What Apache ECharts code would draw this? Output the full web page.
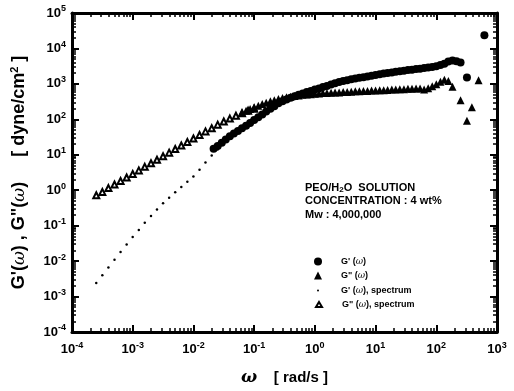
<!DOCTYPE html>
<html><head><meta charset="utf-8">
<script src="https://cdn.jsdelivr.net/npm/echarts@6/dist/echarts.min.js"></script>
<style>html,body{margin:0;padding:0;background:#fff}#c{width:514px;height:391px}</style>
</head><body><div id="c"></div>
<script>
// ---- data ----
const measOmegaGp = [0.0215,0.0251,0.0293,0.0341,0.0398,0.0464,0.0541,0.0631,0.0736,0.0858,
  0.1,0.117,0.136,0.158,0.185,0.215,0.251,0.293,0.341,0.398,0.464,0.541,0.631,0.736,0.858,
  1.0,1.17,1.36,1.58,1.85,2.15,2.51,2.93,3.41,3.98,4.64,5.41,6.31,7.36,8.58,
  10,11.7,13.6,15.8,18.5,21.5,25.1,29.3,34.1,39.8,46.4,54.1,63.1,73.6,85.8,
  100,117,136,158,185,215,251,320,620];
const measGp = [14.8,17.8,21.9,26.9,33.1,39.8,46.8,56.2,66.1,79.4,
  95.5,115,138,166,200,234,282,324,363,407,447,490,537,589,631,
  692,741,813,871,955,1047,1122,1202,1259,1349,1413,1479,1549,1622,1698,
  1778,1862,1950,2042,2089,2188,2291,2344,2455,2512,2630,2692,2818,2884,3020,
  3162,3388,3715,4266,4571,4365,3981,1514,23440];

const measOmegaGpp = [0.0631,0.0736,0.0858,
  0.1,0.117,0.136,0.158,0.185,0.215,0.251,0.293,0.341,0.398,0.464,0.541,0.631,0.736,0.858,
  1.0,1.17,1.36,1.58,1.85,2.15,2.51,2.93,3.41,3.98,4.64,5.41,6.31,7.36,8.58,
  10,11.7,13.6,15.8,18.5,21.5,25.1,29.3,34.1,39.8,46.4,54.1,63.1,73.6,85.8,
  100,117,136,158,185,251,320,386,497];
const measGpp = [155,174,195,
  219,240,269,295,324,347,372,398,417,437,457,468,490,501,513,
  525,537,550,550,562,575,575,589,589,603,617,617,631,631,646,
  646,661,661,676,692,692,708,708,724,724,741,741,692,759,851,
  977,1148,1318,1202,832,347,91,219,1259];

const specOmegaGpp = [2.51e-4,3.16e-4,3.98e-4,5.01e-4,6.31e-4,7.94e-4,1.0e-3,1.26e-3,1.58e-3,2.0e-3,
  2.51e-3,3.16e-3,3.98e-3,5.01e-3,6.31e-3,7.94e-3,0.01,0.0126,0.0158,0.02,
  0.0251,0.0316,0.0398,0.0501,0.0631,0.0794,0.1];
const specGpp = [0.724,0.891,1.148,1.445,1.82,2.29,2.88,3.63,4.57,5.75,
  7.24,9.12,11.5,14.5,18.2,22.9,28.8,36.3,45.7,56.2,
  70.8,87.1,105,126,148,174,200];

const specOmegaGp = [2.51e-4,3.16e-4,3.98e-4,5.01e-4,6.31e-4,7.94e-4,1.0e-3,1.26e-3,1.58e-3,2.0e-3,
  2.51e-3,3.16e-3,3.98e-3,5.01e-3,6.31e-3,7.94e-3,0.01,0.0126,0.0158,0.02,0.0251];
const specGp = [2.40e-3,3.98e-3,6.61e-3,0.0110,0.0182,0.0295,0.0479,0.0759,0.120,0.186,
  0.288,0.427,0.617,0.871,1.23,1.74,2.45,3.80,6.03,9.55,14.1];

const xTickExps = ['-4','-3','-2','-1','0','1','2','3'];
const yTickExps = ['-4','-3','-2','-1','0','1','2','3','4','5'];
const seriesNames = ["G'(ω)", 'G"(ω)', "G'(ω), spectrum", 'G"(ω), spectrum'];
const noteLines = ['PEO/H', '2', 'O  SOLUTION', 'CONCENTRATION : 4 wt%', 'Mw : 4,000,000'];

// ---- chart ----
const FONT = '"Liberation Sans", Arial, sans-serif';
function pairs(xs, ys) { return xs.map((x, i) => [x, ys[i]]); }
function expLabel(exps) {
  return function (v) {
    const e = String(Math.round(Math.log10(v)));
    return exps.indexOf(e) >= 0 ? '{b|10}{s|' + e + '}' : '';
  };
}
const tickRich = {
  b: { fontSize: 13, fontWeight: 'bold', fontFamily: FONT, color: '#000', lineHeight: 17 },
  s: { fontSize: 9, fontWeight: 'bold', fontFamily: FONT, color: '#000', lineHeight: 10, verticalAlign: 'top' }
};
function axisBase() {
  return {
    type: 'log', logBase: 10, interval: 1,
    axisLine: { show: true, lineStyle: { color: '#000', width: 3 } },
    axisTick: { show: true, inside: true, length: 7, lineStyle: { color: '#000', width: 2 } },
    minorTick: { show: true, splitNumber: 9, length: 4, lineStyle: { color: '#000', width: 1.5 } },
    splitLine: { show: false }, minorSplitLine: { show: false },
    axisLabel: { show: false }
  };
}
const legendRich = {
  n: { fontSize: 9, fontWeight: 'bold', fontFamily: FONT, color: '#000' },
  i: { fontSize: 9, fontStyle: 'italic', fontFamily: '"DejaVu Serif", serif', color: '#000' }
};
function legendFmt(name) {
  const idx = name.indexOf('ω');
  return '{n|' + name.slice(0, idx - 1) + ' (}{i|ω}{n|' + name.slice(idx + 1) + '}';
}
function mkLegend(name, top, left, w, h, pad) {
  return {
    data: [name], orient: 'vertical', left: left, top: top, padding: 0,
    itemWidth: w, itemHeight: h, selectedMode: false,
    formatter: legendFmt,
    textStyle: { rich: legendRich, padding: [0, 0, 0, pad] }
  };
}
const solid = { color: '#000', opacity: 1 };

const chart = echarts.init(document.getElementById('c'), null, { renderer: 'canvas' });
chart.setOption({
  backgroundColor: '#fff',
  animation: false,
  grid: { left: 72, right: 17, top: 13, bottom: 56, containLabel: false },
  xAxis: [
    Object.assign(axisBase(), {
      min: 1e-4, max: 1e3, position: 'bottom',
      axisLabel: { show: true, interval: 0, margin: 9, formatter: expLabel(xTickExps), rich: tickRich },
      name: '{w|ω}{t|    [ rad/s ]}', nameLocation: 'middle', nameGap: 37,
      nameTextStyle: { rich: {
        w: { fontSize: 17, fontStyle: 'italic', fontWeight: 'bold', fontFamily: '"DejaVu Serif", serif', color: '#000' },
        t: { fontSize: 15, fontWeight: 'bold', fontFamily: FONT, color: '#000' } } }
    }),
    Object.assign(axisBase(), { min: 1e-4, max: 1e3, position: 'top' })
  ],
  yAxis: [
    Object.assign(axisBase(), {
      min: 1e-4, max: 1e5, position: 'left',
      axisLabel: { show: true, interval: 0, margin: 6, formatter: expLabel(yTickExps), rich: tickRich },
      name: "{t|G'(}{w|ω}{t|) , G\"(}{w|ω}{t|)     [ dyne/cm}{s|2}{t| ]}",
      nameLocation: 'middle', nameGap: 42, nameRotate: 90,
      nameTextStyle: { rich: {
        t: { fontSize: 18, fontWeight: 'bold', fontFamily: FONT, color: '#000', lineHeight: 21 },
        w: { fontSize: 17, fontStyle: 'italic', fontFamily: '"DejaVu Serif", serif', color: '#000', lineHeight: 21 },
        s: { fontSize: 11, fontWeight: 'bold', fontFamily: FONT, color: '#000', lineHeight: 11, verticalAlign: 'top' } } }
    }),
    Object.assign(axisBase(), { min: 1e-4, max: 1e5, position: 'right' })
  ],
  legend: [
    mkLegend(seriesNames[0], 257, 314, 8, 8, 14),
    mkLegend(seriesNames[1], 271, 314, 8, 8, 14),
    mkLegend(seriesNames[2], 286, 317, 2, 2, 17),
    mkLegend(seriesNames[3], 300, 315, 6, 5, 15)
  ],
  graphic: [{
    type: 'text', left: 305, top: 182, silent: true,
    style: {
      text: '{a|' + noteLines[0] + '}{sub|' + noteLines[1] + '}{a|' + noteLines[2] + '}\n{a|' + noteLines[3] + '}\n{a|' + noteLines[4] + '}',
      rich: {
        a: { fontSize: 11, fontWeight: 'bold', fontFamily: FONT, fill: '#000', lineHeight: 13.5 },
        sub: { fontSize: 8, fontWeight: 'bold', fontFamily: FONT, fill: '#000', lineHeight: 13.5, verticalAlign: 'bottom' }
      }
    }
  }],
  series: [
    { name: seriesNames[3], type: 'scatter', symbol: 'emptyTriangle', symbolSize: 6,
      itemStyle: { color: '#000', borderColor: '#000', borderWidth: 1, opacity: 1 },
      data: pairs(specOmegaGpp, specGpp), z: 2 },
    { name: seriesNames[2], type: 'scatter', symbol: 'circle', symbolSize: 2.5,
      itemStyle: solid, data: pairs(specOmegaGp, specGp), z: 2 },
    { name: seriesNames[1], type: 'scatter', symbol: 'triangle', symbolSize: 8,
      itemStyle: solid, data: pairs(measOmegaGpp, measGpp), z: 3 },
    { name: seriesNames[0], type: 'scatter', symbol: 'circle', symbolSize: 8,
      itemStyle: solid, data: pairs(measOmegaGp, measGp), z: 4 }
  ]
});
</script>
</body></html>
